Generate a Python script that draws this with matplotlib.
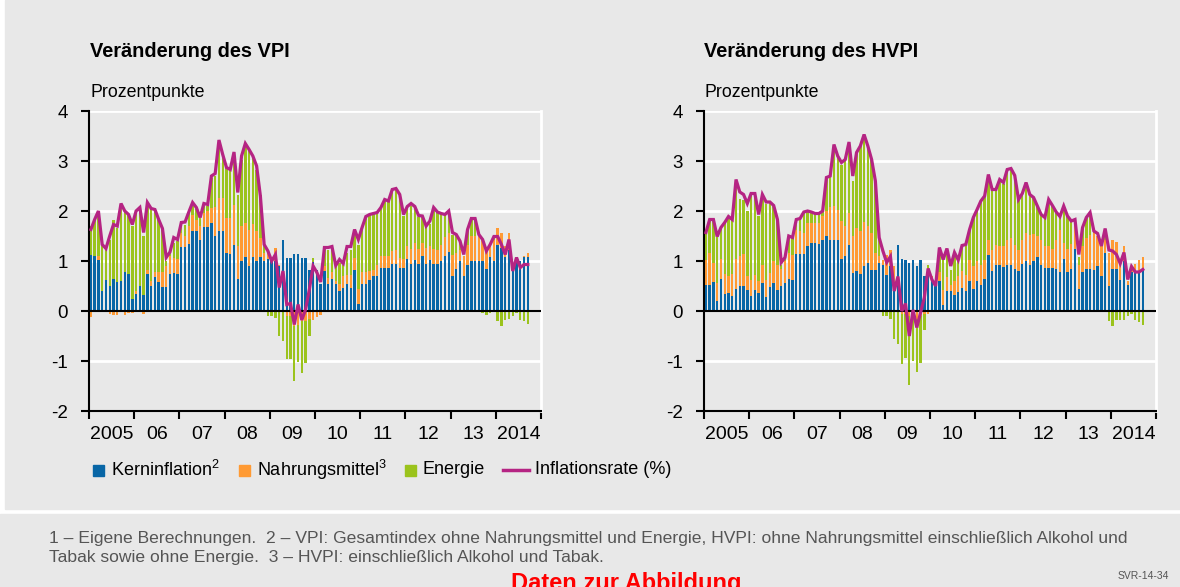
import numpy as np
import matplotlib
matplotlib.use("Agg")
import matplotlib.pyplot as plt
from matplotlib.patches import Rectangle
from matplotlib.lines import Line2D

plt.rcParams['font.family'] = ['Liberation Sans', 'DejaVu Sans']
plt.rcParams['mathtext.fontset'] = 'custom'
plt.rcParams['mathtext.rm'] = 'Liberation Sans'

# monthly data Jan 2005 - Sep 2014, contributions in percentage points
year_labels = ["2005", "06", "07", "08", "09", "10", "11", "12", "13", "2014"]

vpi_core = [1.13, 1.11, 1.03, 0.41, 0.63, 0.5, 0.65, 0.58, 0.61, 0.79, 0.75, 0.25,
            0.34, 0.51, 0.33, 0.75, 0.51, 0.68, 0.59, 0.49, 0.49, 0.75, 0.77, 0.75,
            1.28, 1.28, 1.35, 1.61, 1.61, 1.43, 1.69, 1.69, 1.77, 1.51, 1.6, 1.6,
            1.17, 1.15, 1.33, 0.65, 1.0, 1.08, 0.9, 1.08, 1.0, 1.08, 1.0, 1.05,
            1.0, 1.0, 0.9, 1.42, 1.07, 1.07, 1.15, 1.15, 1.07, 1.07, 0.82, 0.98,
            0.83, 0.55, 0.8, 0.55, 0.65, 0.55, 0.4, 0.47, 0.55, 0.47, 0.82, 0.15,
            0.55, 0.55, 0.63, 0.71, 0.71, 0.87, 0.87, 0.87, 0.95, 0.95, 0.87, 0.87,
            1.05, 0.95, 1.03, 0.95, 1.11, 0.95, 1.03, 0.95, 0.95, 1.01, 1.11, 1.19,
            0.71, 0.85, 1.01, 0.71, 0.93, 1.01, 1.01, 1.01, 1.01, 0.85, 1.09, 1.01,
            1.33, 1.27, 1.08, 1.23, 0.8, 1.0, 1.0, 1.08, 1.08]
vpi_food = [-0.12, 0, 0.08, 0, 0, -0.05, -0.08, -0.08, 0, -0.07, -0.03, -0.03,
            0.06, 0, -0.05, 0.08, 0.09, 0.11, 0.2, 0.3, 0.41, 0.35, 0.3, 0.3,
            0.29, 0.23, 0.35, 0.32, 0.21, 0.27, 0.28, 0.31, 0.3, 0.58, 0.67, 0.67,
            0.7, 0.72, 0.8, 0.66, 0.71, 0.69, 0.73, 0.67, 0.6, 0.39, 0.17, 0.13,
            0.05, 0.27, 0.03, 0, -0.1, -0.1, -0.3, -0.27, -0.2, -0.2, -0.15, -0.18,
            -0.12, -0.08, 0.1, 0.12, 0.13, 0.05, 0.15, 0.23, 0.18, 0.26, 0.25, 0.3,
            0.23, 0.23, 0.17, 0.11, 0.22, 0.23, 0.23, 0.24, 0.25, 0.28, 0.2, 0.18,
            0.26, 0.3, 0.34, 0.3, 0.26, 0.32, 0.28, 0.3, 0.27, 0.32, 0.38, 0.38,
            0.42, 0.32, 0.22, 0.39, 0.4, 0.5, 0.5, 0.5, 0.42, 0.35, 0.26, 0.42,
            0.34, 0.3, 0.22, 0.34, 0, 0, 0, 0.03, 0.09]
vpi_energy = [0.57, 0.72, 0.86, 0.92, 0.59, 0.93, 1.18, 1.09, 1.52, 1.19, 1.18, 1.45,
              1.63, 1.58, 1.17, 1.3, 1.45, 1.21, 1.04, 0.84, 0.1, 0.07, 0.3, 0.35,
              0.16, 0.22, 0.27, 0.17, 0.23, 0.17, 0.13, 0.1, 0.6, 0.62, 1.1, 0.83,
              1.0, 0.96, 1.04, 1.02, 1.32, 1.53, 1.57, 1.32, 1.23, 0.86, 0.16, -0.1,
              -0.1, -0.13, -0.49, -0.6, -0.85, -0.85, -1.1, -0.75, -1.03, -0.83, -0.34, 0.09,
              0, 0, 0.35, 0.56, 0.5, 0.3, 0.42, 0.23, 0.44, 0.5, 0.5, 0.88,
              0.92, 1.11, 1.13, 1.13, 1.04, 0.97, 1.13, 1.09, 1.2, 1.2, 1.23, 0.86,
              0.76, 0.85, 0.7, 0.64, 0.54, 0.43, 0.44, 0.78, 0.76, 0.62, 0.44, 0.43,
              0.4, 0.36, 0.14, 0, 0.3, 0.34, 0.34, 0.02, -0.03, -0.07, -0.03, 0.06,
              -0.2, -0.29, -0.18, -0.15, -0.1, -0.03, -0.18, -0.2, -0.25]
vpi_rate = [1.63, 1.83, 2.0, 1.33, 1.25, 1.5, 1.73, 1.7, 2.15, 2.0, 1.93, 1.73,
            2.0, 2.07, 1.57, 2.17, 2.05, 2.03, 1.83, 1.65, 1.07, 1.18, 1.47, 1.43,
            1.77, 1.78, 1.98, 2.17, 2.07, 1.87, 2.15, 2.13, 2.7, 2.75, 3.42, 3.13,
            2.87, 2.83, 3.18, 2.37, 3.1, 3.35, 3.23, 3.1, 2.9, 2.3, 1.33, 1.2,
            1.0, 1.13, 0.47, 0.8, 0.13, 0.15, -0.27, 0.13, -0.18, 0.03, 0.43, 0.9,
            0.77, 0.58, 1.27, 1.27, 1.29, 0.91, 1.03, 0.95, 1.29, 1.29, 1.63, 1.43,
            1.67, 1.89, 1.93, 1.95, 1.97, 2.07, 2.23, 2.2, 2.43, 2.45, 2.33, 1.93,
            2.09, 2.15, 2.09, 1.91, 1.9, 1.7, 1.8, 2.07, 1.98, 1.95, 1.93, 2.0,
            1.57, 1.53, 1.4, 1.13, 1.63, 1.85, 1.85, 1.53, 1.43, 1.2, 1.33, 1.49,
            1.49, 1.33, 1.13, 1.43, 0.8, 1.07, 0.87, 0.93, 0.93]

hvpi_core = [0.52, 0.52, 0.59, 0.21, 0.65, 0.35, 0.37, 0.3, 0.45, 0.51, 0.51, 0.43,
             0.3, 0.42, 0.37, 0.57, 0.29, 0.49, 0.57, 0.42, 0.5, 0.57, 0.65, 0.63,
             1.15, 1.15, 1.15, 1.3, 1.37, 1.37, 1.35, 1.43, 1.51, 1.43, 1.43, 1.42,
             1.05, 1.11, 1.33, 0.77, 0.8, 0.75, 0.9, 0.97, 0.83, 0.83, 0.97, 0.93,
             0.73, 0.9, 0.57, 1.33, 1.05, 1.03, 0.97, 1.03, 0.9, 1.03, 0.7, 0.8,
             0.61, 0.6, 0.61, 0.13, 0.41, 0.41, 0.33, 0.39, 0.47, 0.4, 0.61, 0.45,
             0.61, 0.53, 0.65, 1.13, 0.81, 0.93, 0.93, 0.88, 0.93, 0.93, 0.85, 0.8,
             0.95, 1.01, 0.93, 1.01, 1.08, 0.93, 0.87, 0.87, 0.87, 0.85, 0.79, 1.05,
             0.79, 0.85, 1.25, 0.45, 0.79, 0.85, 0.85, 0.83, 0.91, 0.71, 1.17, 0.51,
             0.85, 0.85, 0.63, 1.0, 0.52, 0.78, 0.78, 0.78, 0.83]
hvpi_food = [0.51, 0.65, 0.38, 0.36, 0.4, 0.4, 0.34, 0.45, 0.6, 0.6, 0.64, 0.27,
             0.33, 0.31, 0.23, 0.35, 0.34, 0.28, 0.43, 0.51, 0.35, 0.43, 0.52, 0.5,
             0.48, 0.45, 0.42, 0.47, 0.4, 0.4, 0.42, 0.47, 0.49, 0.66, 0.68, 0.61,
             0.75, 0.59, 0.64, 0.74, 0.87, 0.85, 0.88, 0.74, 0.74, 0.34, 0.13, 0.1,
             0.4, 0.33, 0.34, 0, -0.05, -0.05, -0.1, -0.1, -0.15, -0.1, -0.05, -0.05,
             0.1, 0, 0.17, 0.3, 0.28, 0.12, 0.27, 0.31, 0.33, 0.33, 0.41, 0.45,
             0.39, 0.4, 0.37, 0.3, 0.42, 0.4, 0.38, 0.42, 0.5, 0.54, 0.48, 0.43,
             0.48, 0.56, 0.6, 0.54, 0.43, 0.5, 0.44, 0.43, 0.38, 0.57, 0.84, 0.32,
             0.46, 0.5, 0.58, 0.48, 0.51, 0.62, 0.68, 0.74, 0.59, 0.64, 0.26, 0.66,
             0.57, 0.54, 0.4, 0.31, 0.08, 0.07, 0.17, 0.24, 0.25]
hvpi_energy = [0.54, 0.66, 0.86, 0.92, 0.62, 1.02, 1.18, 1.08, 1.55, 1.12, 1.07, 1.3,
               1.72, 1.62, 1.3, 1.41, 1.5, 1.41, 1.11, 0.9, 0.08, 0.07, 0.32, 0.34,
               0.2, 0.25, 0.41, 0.23, 0.2, 0.17, 0.18, 0.1, 0.67, 0.61, 1.22, 1.07,
               1.13, 1.33, 1.4, 1.09, 1.5, 1.7, 1.72, 1.59, 1.46, 1.43, 0.37, -0.1,
               -0.1, -0.15, -0.55, -0.65, -1.0, -0.88, -1.37, -0.9, -1.07, -0.93, -0.33, 0.13,
               0, 0, 0.39, 0.6, 0.54, 0.3, 0.53, 0.3, 0.47, 0.57, 0.6, 0.97,
               1.03, 1.27, 1.28, 1.27, 1.2, 1.1, 1.32, 1.25, 1.4, 1.38, 1.38, 1.0,
               0.92, 1.0, 0.8, 0.72, 0.59, 0.5, 0.56, 0.93, 0.86, 0.56, 0.26, 0.73,
               0.65, 0.45, 0, 0.16, 0.37, 0.4, 0.44, 0.03, 0, -0.01, 0.22, -0.2,
               -0.3, -0.17, -0.17, -0.17, -0.1, -0.05, -0.18, -0.22, -0.27]
hvpi_rate = [1.57, 1.83, 1.83, 1.49, 1.67, 1.77, 1.89, 1.83, 2.63, 2.38, 2.33, 2.15,
             2.35, 2.35, 1.93, 2.33, 2.18, 2.18, 2.11, 1.83, 0.97, 1.07, 1.5, 1.47,
             1.83, 1.85, 1.98, 2.0, 1.98, 1.95, 1.95, 2.0, 2.67, 2.7, 3.33, 3.1,
             2.97, 3.03, 3.38, 2.7, 3.17, 3.3, 3.53, 3.3, 3.03, 2.6, 1.47, 1.2,
             0.97, 1.09, 0.4, 0.69, 0.0, 0.15, -0.5, 0.02, -0.33, -0.03, 0.27, 0.85,
             0.63, 0.5, 1.27, 1.03, 1.25, 0.9, 1.17, 1.02, 1.31, 1.33, 1.63, 1.87,
             2.03, 2.2, 2.3, 2.73, 2.43, 2.43, 2.63, 2.57, 2.83, 2.85, 2.71, 2.23,
             2.35, 2.57, 2.33, 2.27, 2.1, 1.93, 1.87, 2.23, 2.11, 1.98, 1.89, 2.1,
             1.9, 1.8, 1.83, 1.13, 1.67, 1.87, 1.97, 1.6, 1.55, 1.3, 1.65, 1.22,
             1.2, 1.13, 0.95, 1.17, 0.63, 0.89, 0.78, 0.78, 0.83]

BG = '#e8e8e8'
C_CORE = '#0866a6'
C_FOOD = '#ff9a33'
C_ENERGY = '#9bc31c'
C_RATE = '#b52483'
W, H = 1180, 587


def fx(px):
    return px / W


def fy(py):
    return 1 - py / H


def panel(ax, core, food, energy, rate):
    n = len(core)
    x = np.arange(n) + 0.5
    pos = np.zeros(n)
    neg = np.zeros(n)
    for vals, col in [(core, C_CORE), (food, C_FOOD), (energy, C_ENERGY)]:
        v = np.array(vals, dtype=float)
        p = np.clip(v, 0, None)
        m = np.clip(v, None, 0)
        ax.bar(x, p, bottom=pos, width=0.64, color=col, linewidth=0, zorder=2)
        ax.bar(x, m, bottom=neg, width=0.64, color=col, linewidth=0, zorder=2)
        pos += p
        neg += m
    ax.plot(x, rate, color=C_RATE, lw=2.3, zorder=4, solid_joinstyle='miter')

    for g in [-1, 1, 2, 3, 4]:
        ax.axhline(g, color='white', lw=2, zorder=0)
    ax.axhline(0, color='black', lw=1.5, zorder=3)
    ax.set_xlim(0, 120)
    ax.set_ylim(-2, 4)
    ax.patch.set_visible(False)
    ax.spines['top'].set_visible(False)
    ax.spines['right'].set_color('white')
    ax.spines['right'].set_linewidth(2)
    for s in ['left', 'bottom']:
        ax.spines[s].set_linewidth(1.5)
    ax.set_yticks([-2, -1, 0, 1, 2, 3, 4])
    ax.set_yticklabels(['-2', '-1', '0', '1', '2', '3', '4'])
    ax.tick_params(axis='y', length=6, width=1.5, pad=9, labelsize=13.5)
    ax.set_xticks(np.arange(0, 121, 12))
    ax.set_xticklabels([])
    ax.set_xticks(np.arange(6, 120, 12), minor=True)
    ax.set_xticklabels(year_labels, minor=True)
    ax.tick_params(axis='x', which='major', length=6, width=1.5)
    ax.tick_params(axis='x', which='minor', length=0, pad=11, labelsize=14)


fig = plt.figure(figsize=(11.8, 5.87), dpi=100)
fig.patch.set_facecolor('white')
fig.add_artist(Rectangle((fx(5), fy(509)), 1, 509 / H, transform=fig.transFigure,
                         color=BG, zorder=-10))
fig.add_artist(Rectangle((0, 0), 1, fy(514), transform=fig.transFigure,
                         color=BG, zorder=-10))

ax1 = fig.add_axes([fx(89), fy(411), fx(452), 300 / H])
ax2 = fig.add_axes([fx(704), fy(411), fx(452), 300 / H])
panel(ax1, vpi_core, vpi_food, vpi_energy, vpi_rate)
panel(ax2, hvpi_core, hvpi_food, hvpi_energy, hvpi_rate)

for x0, t in [(90, 'Veränderung des VPI'), (704, 'Veränderung des HVPI')]:
    fig.text(fx(x0), fy(57), t, fontsize=14.4, fontweight='bold', va='baseline')
    fig.text(fx(x0), fy(97), 'Prozentpunkte', fontsize=12.8, va='baseline')

# legend
ly = 470
items = [(93, C_CORE, r'Kerninflation$^\mathrm{2}$'),
         (239, C_FOOD, r'Nahrungsmittel$^\mathrm{3}$'),
         (405, C_ENERGY, 'Energie')]
for x0, col, lab in items:
    fig.add_artist(Rectangle((fx(x0), fy(ly + 6)), fx(11), 11 / H,
                             transform=fig.transFigure, color=col))
    fig.text(fx(x0 + 18), fy(ly), lab, fontsize=13, va='center')
fig.add_artist(Line2D([fx(503), fx(529)], [fy(ly), fy(ly)], transform=fig.transFigure,
                      color=C_RATE, lw=2.5))
fig.text(fx(535), fy(ly), 'Inflationsrate (%)', fontsize=13, va='center')

fig.text(fx(49), fy(543), '1 – Eigene Berechnungen.  2 – VPI: Gesamtindex ohne Nahrungsmittel '
         'und Energie, HVPI: ohne Nahrungsmittel einschließlich Alkohol und',
         fontsize=12.6, color='#555555', va='baseline')
fig.text(fx(49), fy(562), 'Tabak sowie ohne Energie.  3 – HVPI: einschließlich Alkohol und Tabak.',
         fontsize=12.6, color='#555555', va='baseline')
fig.text(fx(626), fy(572), 'Daten zur Abbildung', fontsize=17, fontweight='bold',
         color='#ff0000', ha='center', va='top')
fig.text(fx(1118), fy(576), 'SVR-14-34', fontsize=7.5, color='#555555', va='center')

fig.savefig('out.png', dpi=100, facecolor=fig.get_facecolor())
